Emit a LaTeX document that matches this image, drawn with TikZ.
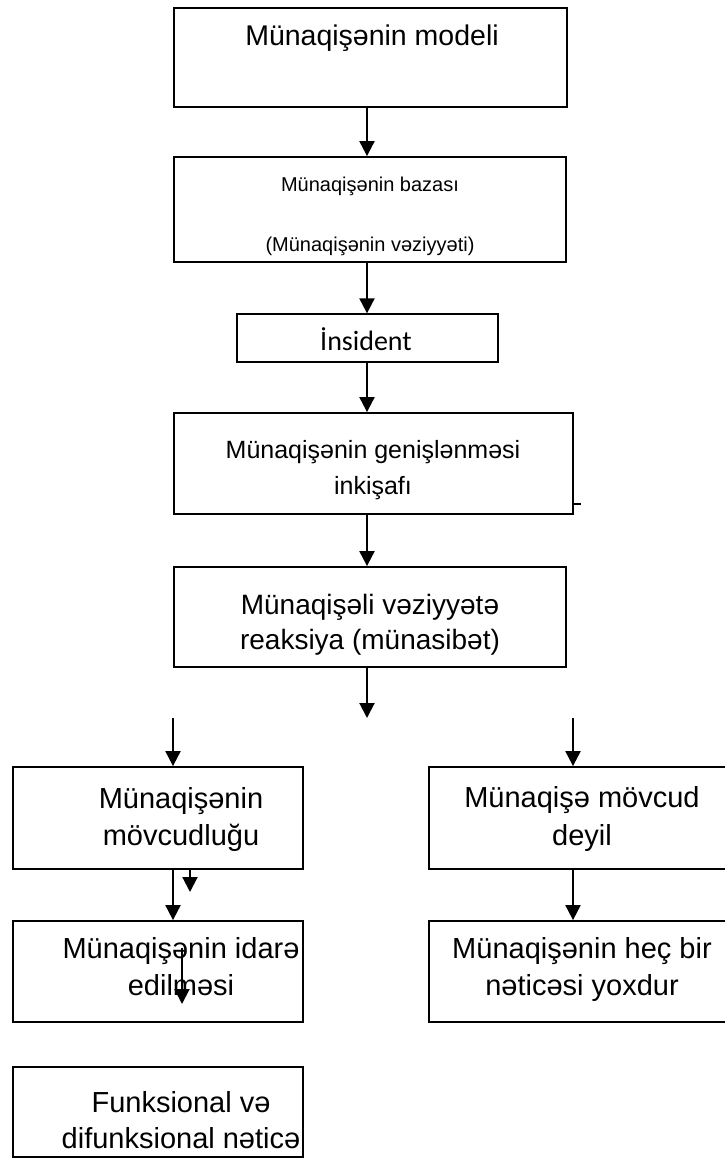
\documentclass[tikz,border=0pt]{standalone}
\usepackage{fontspec}
\setmainfont{Liberation Sans}
\newfontfamily\calfont{Carlito}
\usetikzlibrary{arrows.meta}
\begin{document}
\begin{tikzpicture}[x=1pt,y=-1pt,
  box/.style={draw=black,line width=1.8pt,inner sep=0pt,fill=none},
  thinbox/.style={draw=black,line width=1.3pt,inner sep=0pt},
  txt/.style={anchor=base,inner sep=0pt},
  arr/.style={line width=2pt,-{Triangle[width=15pt,length=15pt]}}]
\useasboundingbox (0,0) rectangle (725,1160);
\clip (0,0) rectangle (725,1160);
% boxes
\node[box,minimum width=393pt,minimum height=99pt] (b1) at (370.5,57.5) {};
\node[box,minimum width=392pt,minimum height=105pt] (b2) at (370,209.5) {};
\node[thinbox,minimum width=261pt,minimum height=48pt] (b3) at (367.5,338) {};
\node[box,minimum width=399pt,minimum height=101pt] (b4) at (373.5,463.5) {};
\node[box,minimum width=392pt,minimum height=100pt] (b5) at (370,617) {};
\node[box,minimum width=290pt,minimum height=102pt] (b6) at (158,818) {};
\node[box,minimum width=311pt,minimum height=102pt] (b7) at (584.5,818) {};
\node[box,minimum width=290pt,minimum height=101pt] (b8) at (158,971.5) {};
\node[box,minimum width=311pt,minimum height=101pt] (b10) at (584.5,971.5) {};
\node[box,minimum width=290pt,minimum height=90pt] (b9) at (158,1112) {};
% texts
\node[txt,font=\fontsize{28.5}{34}\selectfont] (t1) at (372,45) {Münaqişənin modeli};
\node[txt,font=\fontsize{20}{24}\selectfont] (t2a) at (370,191) {Münaqişənin bazası};
\node[txt,font=\fontsize{20}{24}\selectfont] (t2b) at (370,251) {(Münaqişənin vəziyyəti)};
\node[txt,font=\calfont\fontsize{28}{34}\selectfont] (t3) at (366,350) {İnsident};
\node[txt,font=\fontsize{25}{30}\selectfont] (t4a) at (373,458) {Münaqişənin genişlənməsi};
\node[txt,font=\fontsize{25}{30}\selectfont] (t4b) at (373,494) {inkişafı};
\node[txt,font=\fontsize{28}{34}\selectfont] (t5a) at (370,614) {Münaqişəli vəziyyətə};
\node[txt,font=\fontsize{28}{34}\selectfont] (t5b) at (370,649) {reaksiya (münasibət)};
\node[txt,font=\fontsize{29}{35}\selectfont] (t6a) at (181,808) {Münaqişənin};
\node[txt,font=\fontsize{29}{35}\selectfont] (t6b) at (181,845) {mövcudluğu};
\node[txt,font=\fontsize{29}{35}\selectfont] (t7a) at (582,807) {Münaqişə mövcud};
\node[txt,font=\fontsize{29}{35}\selectfont] (t7b) at (582,845) {deyil};
\node[txt,font=\fontsize{29}{35}\selectfont] (t8a) at (181,958) {Münaqişənin idarə};
\node[txt,font=\fontsize{29}{35}\selectfont] (t8b) at (181,995) {edilməsi};
\node[txt,font=\fontsize{29}{35}\selectfont] (t10a) at (582,958) {Münaqişənin heç bir};
\node[txt,font=\fontsize{29}{35}\selectfont] (t10b) at (582,995) {nəticəsi yoxdur};
\node[txt,font=\fontsize{29}{35}\selectfont] (t9a) at (181,1112) {Funksional və};
\node[txt,font=\fontsize{29}{35}\selectfont] (t9b) at (181,1148) {difunksional nəticə};
% helper coordinates
\coordinate (cx) at (367,0);
\coordinate (f0) at (367,718);
\coordinate (f1) at (173,718);
\coordinate (f2) at (573,718);
\coordinate (s) at (190,892);
\coordinate (sx) at (173,0);
\coordinate (rx) at (573,0);
\coordinate (m1) at (182,948);
\coordinate (m2) at (182,1004);
\coordinate (tk) at (581,504);
% connectors
\draw[arr] (b1.south -| cx) -- (b2.north -| cx);
\draw[arr] (b2.south -| cx) -- (b3.north -| cx);
\draw[arr] (b3.south -| cx) -- (b4.north -| cx);
\draw[arr] (b4.south -| cx) -- (b5.north -| cx);
\draw[arr] (b5.south -| cx) -- (f0);
\draw[arr] (f1) -- (b6.north -| f1);
\draw[arr] (f2) -- (b7.north -| f2);
\draw[arr] (b6.south -| sx) -- (b8.north -| sx);
\draw[arr] (b6.south -| s) -- (s);
\draw[arr] (b7.south -| rx) -- (b10.north -| rx);
\draw[arr] (m1) -- (m2);
\draw[line width=1.8pt] (b4.east |- tk) -- (tk);
\end{tikzpicture}
\end{document}
